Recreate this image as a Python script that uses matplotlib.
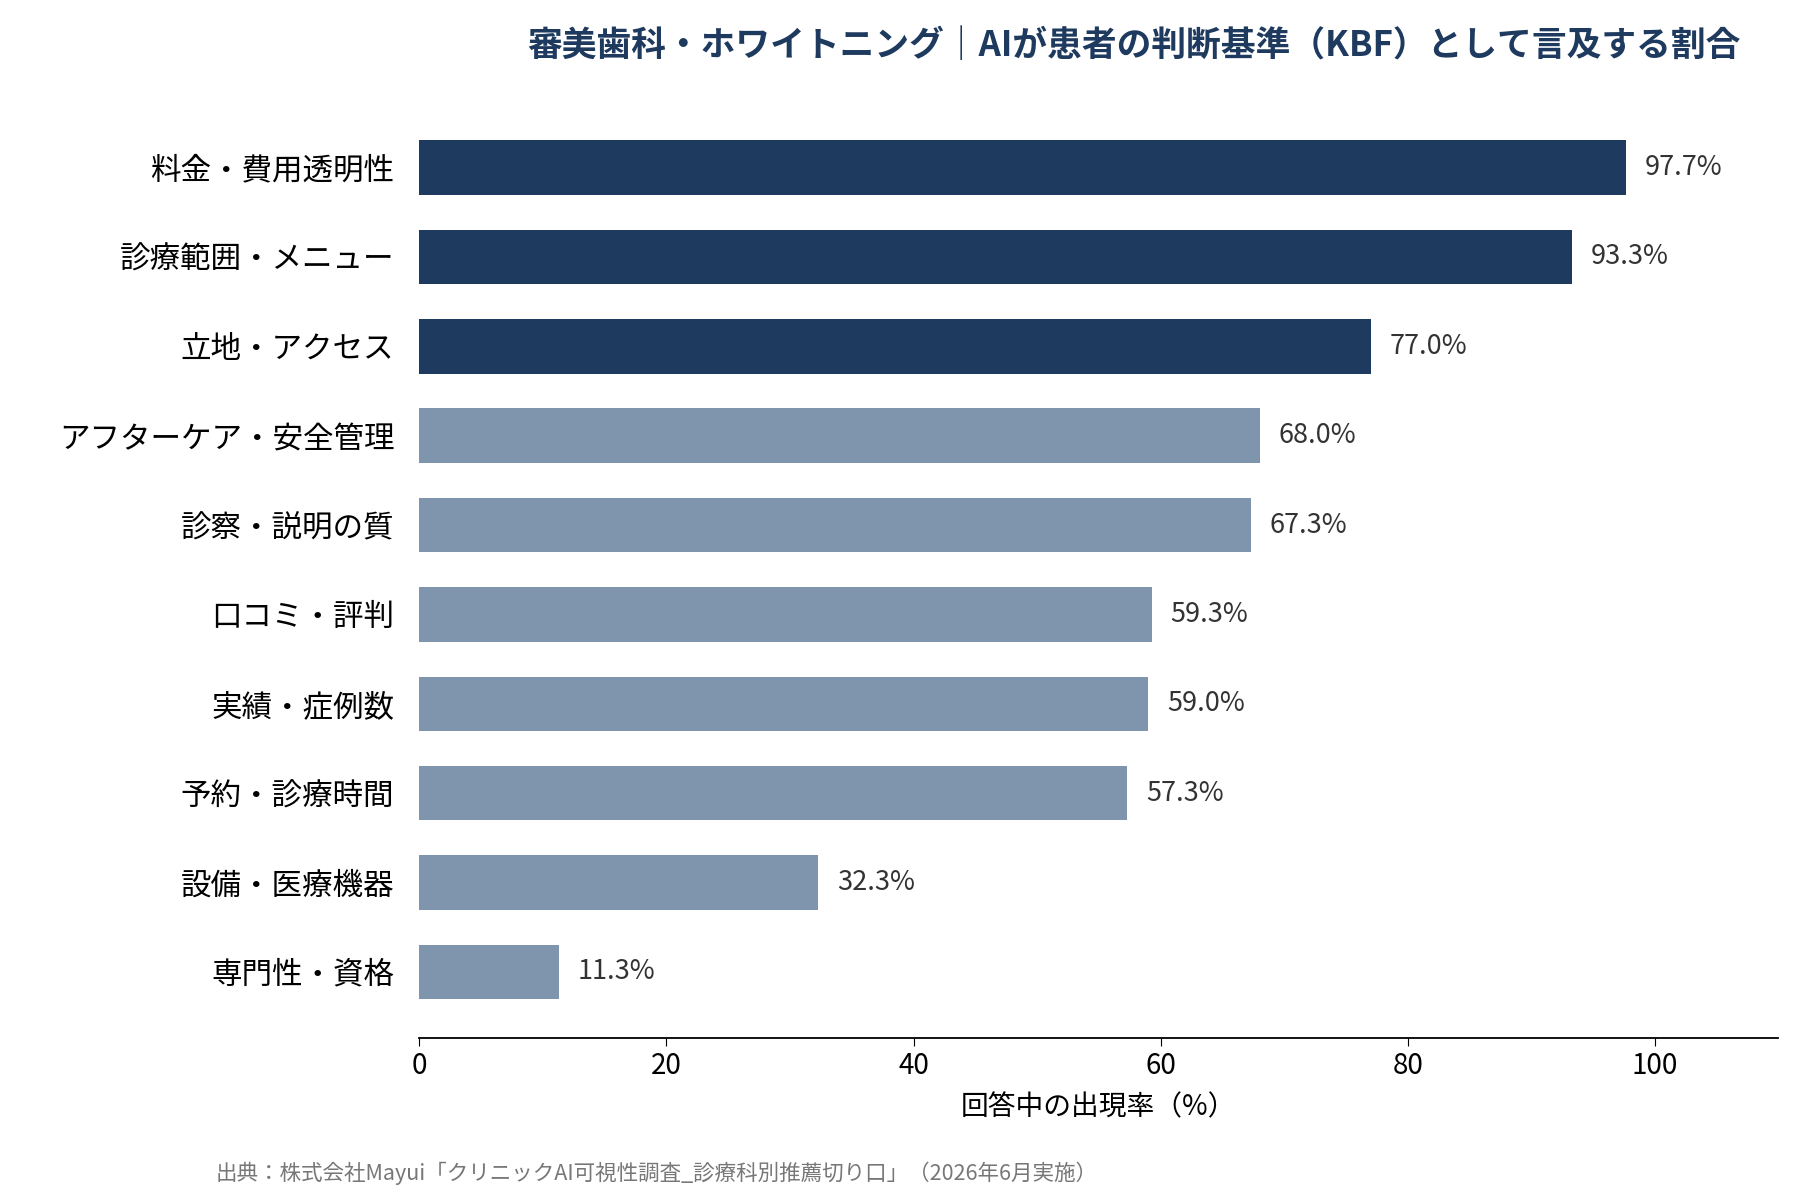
import matplotlib
matplotlib.use("Agg")
import matplotlib.pyplot as plt

plt.rcParams['font.family'] = ['Noto Sans CJK JP', 'DejaVu Sans']

categories = ["料金・費用透明性", "診療範囲・メニュー", "立地・アクセス", "アフターケア・安全管理",
              "診察・説明の質", "口コミ・評判", "実績・症例数", "予約・診療時間",
              "設備・医療機器", "専門性・資格"]
values = [97.7, 93.3, 77.0, 68.0, 67.3, 59.3, 59.0, 57.3, 32.3, 11.3]
xticks = [0, 20, 40, 60, 80, 100]

dark, light = "#1f3a5f", "#7f94ad"
colors = [dark]*3 + [light]*7

fig = plt.figure(figsize=(18, 12), dpi=100)
ax = fig.add_axes([0.233, 0.135, 0.755, 0.77])
y = list(range(len(categories)))
ax.barh(y, values, height=0.61, color=colors)
ax.set_ylim(len(categories) - 1 + 0.74, -0.6)
ax.set_xlim(0, 110)
ax.set_yticks(y)
ax.set_yticklabels(categories, fontsize=22)
ax.set_xticks(xticks)
ax.tick_params(axis='x', labelsize=20, length=6)
ax.tick_params(axis='y', length=0, pad=18)
for s in ['top', 'right', 'left']:
    ax.spines[s].set_visible(False)
ax.spines['bottom'].set_linewidth(1.3)
for yi, v in zip(y, values):
    ax.text(v + 1.5, yi, f"{v:.1f}%", va='center', ha='left', fontsize=19.5, color='#333333')
ax.set_xlabel("回答中の出現率（%）", fontsize=20, labelpad=8)
fig.text(0.967, 0.962, "審美歯科・ホワイトニング｜AIが患者の判断基準（KBF）として言及する割合",
         ha='right', va='center', fontsize=25, fontweight='bold', color=dark)
fig.text(0.12, 0.022, "出典：株式会社Mayui「クリニックAI可視性調査_診療科別推薦切り口」（2026年6月実施）",
         ha='left', va='center', fontsize=15.5, color='#777777')
fig.savefig("out.png", dpi=100)
